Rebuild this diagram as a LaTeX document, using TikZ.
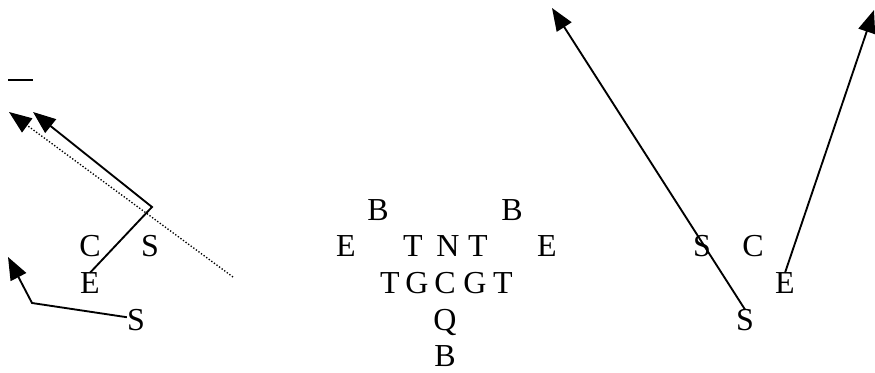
\documentclass[tikz,border=0pt]{standalone}
\usepackage{fontspec}
\setmainfont{Liberation Serif}
\usetikzlibrary{arrows.meta}
\tikzset{
  player/.style={
    inner sep=0pt, anchor=base, font=\fontsize{24}{28}\selectfont
  },
  route/.style={-{Triangle[length=17pt,width=13pt]}, line width=1.4pt, draw=black},
  motion/.style={-{Triangle[length=17pt,width=13pt]}, line width=1pt,
    dash pattern=on 1pt off 1.4pt, draw=black},
  tick/.style={line width=1.3pt, draw=black}
}

\begin{document}
\begin{tikzpicture}[x=0.75pt,y=-0.75pt]
  \useasboundingbox (0,0) rectangle (875,373);

  % left side
  \node[player] (lc) at (90,257) {C};
  \node[player] (ls) at (150,257) {S};
  \node[player] (le) at (90,294) {E};
  \node[player] (ls2) at (136,331) {S};

  \coordinate (dashl) at (8,80);
  \coordinate (dashr) at (33,80);
  \coordinate (dotstart) at (233,277);
  \coordinate (dottip) at (9,112);
  \coordinate (ecorner) at (152,207);
  \coordinate (etip) at (33,112);
  \coordinate (scorner) at (32,303);
  \coordinate (stip) at (8,257);

  \draw[tick] (dashl) -- (dashr);
  \draw[motion] (dotstart) -- (dottip);
  \draw[route] (le.north) -- (ecorner) -- (etip);
  \draw[route] (ls2.160) -- (scorner) -- (stip);

  % middle formation
  \node[player] (bl) at (378,221) {B};
  \node[player] (br) at (512,221) {B};
  \node[player] (el) at (346,257) {E};
  \node[player] (tl) at (413,257) {T};
  \node[player] (nt) at (448,257) {N};
  \node[player] (tr) at (478,257) {T};
  \node[player] (er) at (547,257) {E};
  \node[player] (t1) at (390,294) {T};
  \node[player] (g1) at (417,294) {G};
  \node[player] (cc) at (445,294) {C};
  \node[player] (g2) at (475,294) {G};
  \node[player] (t2) at (503,294) {T};
  \node[player] (qb) at (445,331) {Q};
  \node[player] (fb) at (445,367) {B};

  % right side
  \node[player] (rs) at (702,257) {S};
  \node[player] (rc) at (753,257) {C};
  \node[player] (re) at (785,294) {E};
  \node[player] (rs2) at (745,331) {S};

  \coordinate (rtipl) at (552,8);
  \coordinate (rtipr) at (874,10);

  \draw[route] (rs2.north) -- (rtipl);
  \draw[route] (re.north) -- (rtipr);
\end{tikzpicture}
\end{document}
